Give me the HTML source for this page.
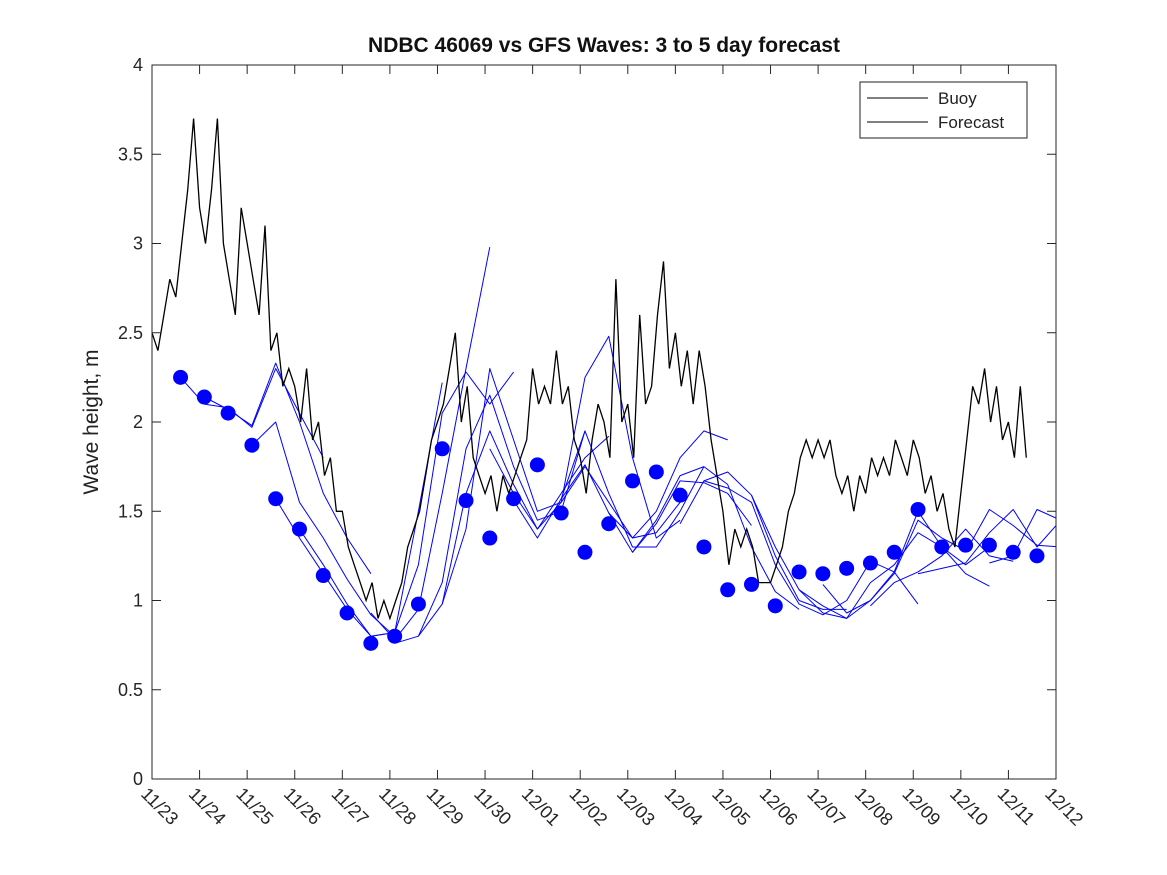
<!DOCTYPE html>
<html><head><meta charset="utf-8"><style>
body{margin:0;background:#fff;}
svg{display:block;font-family:"Liberation Sans","DejaVu Sans",sans-serif;}
</style></head><body>
<svg id="chart" width="1167" height="875">
<defs><clipPath id="plotclip"><rect x="152" y="65" width="904" height="714"/></clipPath></defs>
<rect width="1167" height="875" fill="#fff"/>
<text x="604" y="52" text-anchor="middle" font-size="21" font-weight="bold" fill="#111">NDBC 46069 vs GFS Waves: 3 to 5 day forecast</text>
<text transform="translate(98,422) rotate(-90)" text-anchor="middle" font-size="21" fill="#222">Wave height, m</text>
<g id="fc" clip-path="url(#plotclip)"></g><g id="buoy" clip-path="url(#plotclip)"></g><g id="dots"></g><g id="axes"></g>
<g>
<rect x="860" y="82" width="167" height="56" fill="#fff" stroke="#222" stroke-width="1"/>
<line x1="867" y1="98" x2="928" y2="98" stroke="#000" stroke-width="1"/>
<text x="938" y="104" font-size="17" fill="#222">Buoy</text>
<line x1="867" y1="122" x2="928" y2="122" stroke="#000" stroke-width="1"/>
<text x="938" y="128" font-size="17" fill="#222">Forecast</text>
</g>
</svg>
<script>
const xLabels=["11/23","11/24","11/25","11/26","11/27","11/28","11/29","11/30","12/01","12/02","12/03","12/04","12/05","12/06","12/07","12/08","12/09","12/10","12/11","12/12"];
const yTicks=[0,0.5,1,1.5,2,2.5,3,3.5,4];
const buoyStep=0.125;
const buoy=[2.5,2.4,2.6,2.8,2.7,3.0,3.3,3.7,
3.2,3.0,3.3,3.7,3.0,2.8,2.6,3.2,
3.0,2.8,2.6,3.1,2.4,2.5,2.2,2.3,
2.2,2.0,2.3,1.9,2.0,1.7,1.8,1.5,
1.5,1.3,1.2,1.1,1.0,1.1,0.9,1.0,
0.9,1.0,1.1,1.3,1.4,1.5,1.7,1.9,
2.0,2.1,2.3,2.5,2.0,2.2,1.8,1.7,
1.6,1.7,1.5,1.7,1.6,1.7,1.8,1.9,
2.3,2.1,2.2,2.1,2.4,2.1,2.2,1.9,
1.8,1.6,1.9,2.1,2.0,1.8,2.8,2.0,
2.1,1.8,2.6,2.1,2.2,2.6,2.9,2.3,
2.5,2.2,2.4,2.1,2.4,2.2,1.9,1.7,
1.5,1.2,1.4,1.3,1.4,1.3,1.1,1.1,
1.1,1.2,1.3,1.5,1.6,1.8,1.9,1.8,
1.9,1.8,1.9,1.7,1.6,1.7,1.5,1.7,
1.6,1.8,1.7,1.8,1.7,1.9,1.8,1.7,
1.9,1.8,1.6,1.7,1.5,1.6,1.4,1.3,
1.6,1.9,2.2,2.1,2.3,2.0,2.2,1.9,
2.0,1.8,2.2,1.8];
const dotStart=0.6, dotStep=0.5;
const dots=[2.25,2.14,2.05,1.87,1.57,1.40,1.14,0.93,0.76,0.80,0.98,1.85,1.56,1.35,1.57,1.76,1.49,1.27,1.43,1.67,1.72,1.59,1.30,1.06,1.09,0.97,1.16,1.15,1.18,1.21,1.27,1.51,1.30,1.31,1.31,1.27,1.25];
const runStarts=[0.6,1.1,2.1,2.6,3.1,4.6,5.1,5.6,6.1,7.1,7.6,8.6,9.6,10.1,11.1,11.6,12.6,13.6,14.1,15.1,16.1,17.1,17.6];
const runValues=[
[2.25,2.10,2.08,1.97,2.30,2.05,1.80],
[2.14,2.07,1.98,2.33,2.00,1.60,1.35,1.15],
[1.87,2.00,1.55,1.35,1.12,0.92,0.80],
[1.57,1.35,1.15,0.95,0.80,0.82,1.50,2.22],
[1.40,1.20,0.98,0.80,0.82,1.20,2.05,2.28,2.10,2.28],
[0.93,0.78,0.95,1.60,2.30,2.98],
[0.76,0.80,1.10,1.85,2.15,1.75,1.45,1.50,1.95],
[0.80,0.98,1.60,1.95,1.65,1.40,1.60,1.80,1.92],
[0.98,1.40,2.30,1.90,1.50,1.55,2.25,2.48,1.80,1.35,1.45],
[1.85,1.60,1.40,1.55,1.75,1.55,1.35,1.38,1.55],
[1.56,1.35,1.57,1.95,1.60,1.30,1.30,1.50,1.75],
[1.57,1.76,1.49,1.35,1.50,1.80,1.95,1.90],
[1.49,1.27,1.43,1.67,1.66,1.60,1.42],
[1.27,1.45,1.70,1.75,1.65,1.30,1.05,0.95],
[1.43,1.67,1.72,1.59,1.25,1.00,0.95,0.95],
[1.67,1.63,1.55,1.20,0.98,0.92,1.00,1.22,1.16,0.98],
[1.59,1.30,1.06,0.93,0.90,1.00,1.15,1.45,1.35,1.28],
[1.06,0.97,0.90,1.10,1.20,1.38,1.30,1.15,1.08],
[1.09,0.93,1.00,1.16,1.50,1.30,1.20,1.30],
[0.97,1.10,1.16,1.25,1.40,1.25,1.22],
[1.15,1.18,1.21,1.38,1.51,1.30,1.45,1.63,1.63],
[1.27,1.51,1.42,1.31,1.30,1.35,1.40,1.48],
[1.21,1.25,1.51,1.45,1.36,1.25,1.30,1.42]];
const runStep=0.5;

const NS="http://www.w3.org/2000/svg";
const L=152,R=1056,T=65,B=779,DAYS=19,YMAX=4;
const xs=d=>L+(R-L)*d/DAYS;
const ys=v=>B-(B-T)*v/YMAX;
function mk(tag,attrs,parent){const e=document.createElementNS(NS,tag);for(const k in attrs)e.setAttribute(k,attrs[k]);parent.appendChild(e);return e;}
const axes=document.getElementById('axes');
const box=mk('rect',{x:L,y:T,width:R-L,height:B-T,fill:'none',stroke:'#262626','stroke-width':1},axes);


yTicks.forEach(v=>{
  const y=ys(v);
  const t1=mk('line',{x1:L,x2:L+9,y1:y,y2:y,stroke:'#262626'},axes);
  
  
  const t2=mk('line',{x1:R,x2:R-9,y1:y,y2:y,stroke:'#262626'},axes);
  
  
  const tx=mk('text',{x:L-9,y:y+6,'text-anchor':'end','font-size':18,fill:'#262626'},axes);
  tx.textContent=String(v);
  
  
});
xLabels.forEach((lab,i)=>{
  const x=xs(i);
  const t1=mk('line',{x1:x,x2:x,y1:B,y2:B-9,stroke:'#262626'},axes);
  
  
  const t2=mk('line',{x1:x,x2:x,y1:T,y2:T+9,stroke:'#262626'},axes);
  
  
  const tx=mk('text',{transform:`translate(${x-12},${B+16}) rotate(45)`,'font-size':18,fill:'#262626'},axes);
  tx.textContent=lab;
  
  
});
const bp=buoy.map((v,i)=>xs(i*buoyStep).toFixed(1)+','+ys(v).toFixed(1)).join(' ');
const bl=mk('polyline',{points:bp,fill:'none',stroke:'#000','stroke-width':1.3},document.getElementById('buoy'));


const fc=document.getElementById('fc');
runValues.forEach((vals,r)=>{
  const pts=vals.map((v,i)=>xs(runStarts[r]+i*runStep).toFixed(1)+','+ys(v).toFixed(1)).join(' ');
  const pl=mk('polyline',{points:pts,fill:'none',stroke:'#0000ff','stroke-width':1,'stroke-linejoin':'round'},fc);
  
  
});
const dg=document.getElementById('dots');
dots.forEach((v,i)=>{
  const c=mk('circle',{cx:xs(dotStart+i*dotStep),cy:ys(v),r:7.5,fill:'#0000ff'},dg);
  
  
});
</script>
</body></html>
